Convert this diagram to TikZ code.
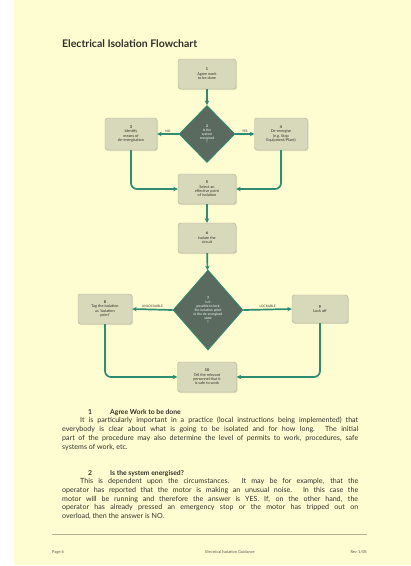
\documentclass[tikz,border=0pt]{standalone}
\usepackage{fontspec}
\setmainfont{Lato}
\usepackage{tikz}
\usetikzlibrary{shapes.geometric,arrows.meta,shadows}

\definecolor{pageyellow}{HTML}{FEFDD2}
\definecolor{boxfill}{HTML}{D8D9BA}
\definecolor{boxline}{HTML}{B0B195}
\definecolor{decfill}{HTML}{5A6A5F}
\definecolor{flowgreen}{HTML}{2E8C72}
\definecolor{inktext}{HTML}{303028}

\tikzset{
  stepbox/.style={draw=boxline, fill=boxfill, rounded corners=2.5pt,
    minimum width=58pt, minimum height=30pt, inner sep=1pt, align=center,
    text=inktext, font=\fontsize{3.8}{4.4}\selectfont,
    drop shadow={opacity=0.25, shadow xshift=1pt, shadow yshift=-1pt}},
  decision/.style={diamond, draw=flowgreen, line width=0.8pt, fill=decfill,
    text=white, align=center, inner sep=0pt, font=\fontsize{3.4}{4}\selectfont},
  flow/.style={flowgreen, line width=1.7pt, rounded corners=6pt,
    -{Stealth[length=4.5pt,width=4.5pt]}},
  flowtag/.style={above, inner sep=1pt, text=inktext, font=\fontsize{3.2}{3.6}\selectfont},
  bodytext/.style={anchor=north west, text width=296pt, align=justify, inner sep=0pt,
    text=inktext, font=\fontsize{7.1}{8.8}\selectfont},
  headtext/.style={anchor=base west, inner sep=0pt, text=inktext,
    font=\fontsize{6.8}{7}\selectfont\bfseries},
  foottext/.style={inner sep=0pt, text=inktext!80, font=\fontsize{4}{4.5}\selectfont}
}

\begin{document}
\begin{tikzpicture}[x=1pt, y=-1pt]
  \fill[white] (0,0) rectangle (411,566);
  \fill[pageyellow] (14,0) rectangle (411,565);
  \useasboundingbox (0,0) rectangle (411,566);

  \node[anchor=west, inner sep=0pt, text=inktext, font=\fontsize{10.5}{12}\selectfont\bfseries]
    (title) at (62,44) {Electrical Isolation Flowchart};

  % the steps
  \node[stepbox] (agree) at (207,74) {\textbf{1}\\Agree work\\to be done};
  \node[decision, minimum width=56pt, minimum height=57pt] (energised) at (207,134)
    {\textbf{2}\\Is the\\system\\energised\\?};
  \node[stepbox, minimum width=52pt, minimum height=32pt] (identify) at (131,134)
    {\textbf{3}\\Identify\\means of\\de-energisation};
  \node[stepbox, minimum width=53pt, minimum height=32pt] (deenergise) at (281,134)
    {\textbf{4}\\De-energise\\(e.g. Stop\\Equipment/Plant)};
  \node[stepbox] (select) at (207,189) {\textbf{5}\\Select an\\effective point\\of isolation};
  \node[stepbox] (isolate) at (207,238) {\textbf{6}\\Isolate the\\circuit};
  \node[decision, minimum width=70pt, minimum height=80pt] (lockable) at (208,310)
    {\textbf{7}\\Is it\\possible to lock\\the isolation point\\in the de-energised\\state\\?};
  \node[stepbox, minimum width=54pt] (tag) at (105,309)
    {\textbf{8}\\Tag the isolation\\as 'Isolation\\point'};
  \node[stepbox, minimum width=56pt, minimum height=28pt] (lockoff) at (320,309)
    {\textbf{9}\\Lock off};
  \node[stepbox, minimum width=59pt] (tell) at (207,377)
    {\textbf{10}\\Tell the relevant\\personnel that it\\is safe to work};

  % connectors
  \draw[flow] (agree) -- (energised);
  \draw[flow] (energised.west) -- node[flowtag] {NO} (identify.east);
  \draw[flow] (energised.east) -- node[flowtag] {YES} (deenergise.west);
  \draw[flow] (identify.south) |- (select.west);
  \draw[flow] (deenergise.south) |- (select.east);
  \draw[flow] (select) -- (isolate);
  \draw[flow] (isolate) -- (lockable);
  \draw[flow] (lockable.west) -- node[flowtag] {UNLOCKABLE} (tag.east);
  \draw[flow] (lockable.east) -- node[flowtag] {LOCKABLE} (lockoff.west);
  \draw[flow] (tag.south) |- (tell.west);
  \draw[flow] (lockoff.south) |- (tell.east);

  % notes below the chart
  \node[headtext] (num1) at (88,414) {1};
  \node[headtext] (head1) at (110,414) {Agree Work to be done};
  \node[bodytext] (para1) at (62,417) {\hspace*{18pt}It is particularly important in a practice (local instructions being implemented) that\linebreak
    everybody is clear about what is going to be isolated and for how long. The initial\linebreak
    part of the procedure may also determine the level of permits to work, procedures, safe\linebreak
    systems of work, etc.};
  \node[headtext] (num2) at (88,475) {2};
  \node[headtext] (head2) at (110,475) {Is the system energised?};
  \node[bodytext] (para2) at (62,478) {\hspace*{18pt}This is dependent upon the circumstances. It may be for example, that the\linebreak
    operator has reported that the motor is making an unusual noise. In this case the\linebreak
    motor will be running and therefore the answer is YES. If, on the other hand, the\linebreak
    operator has already pressed an emergency stop or the motor has tripped out on\linebreak
    overload, then the answer is NO.};

  % footer
  \draw[boxline, line width=0.6pt] (52,534) -- (367,534);
  \node[foottext, anchor=west] (page) at (52,552) {Page 6};
  \node[foottext] (guide) at (230,552) {Electrical Isolation Guidance};
  \node[foottext, anchor=east] (rev) at (367,552) {Rev 1/08};
\end{tikzpicture}
\end{document}
